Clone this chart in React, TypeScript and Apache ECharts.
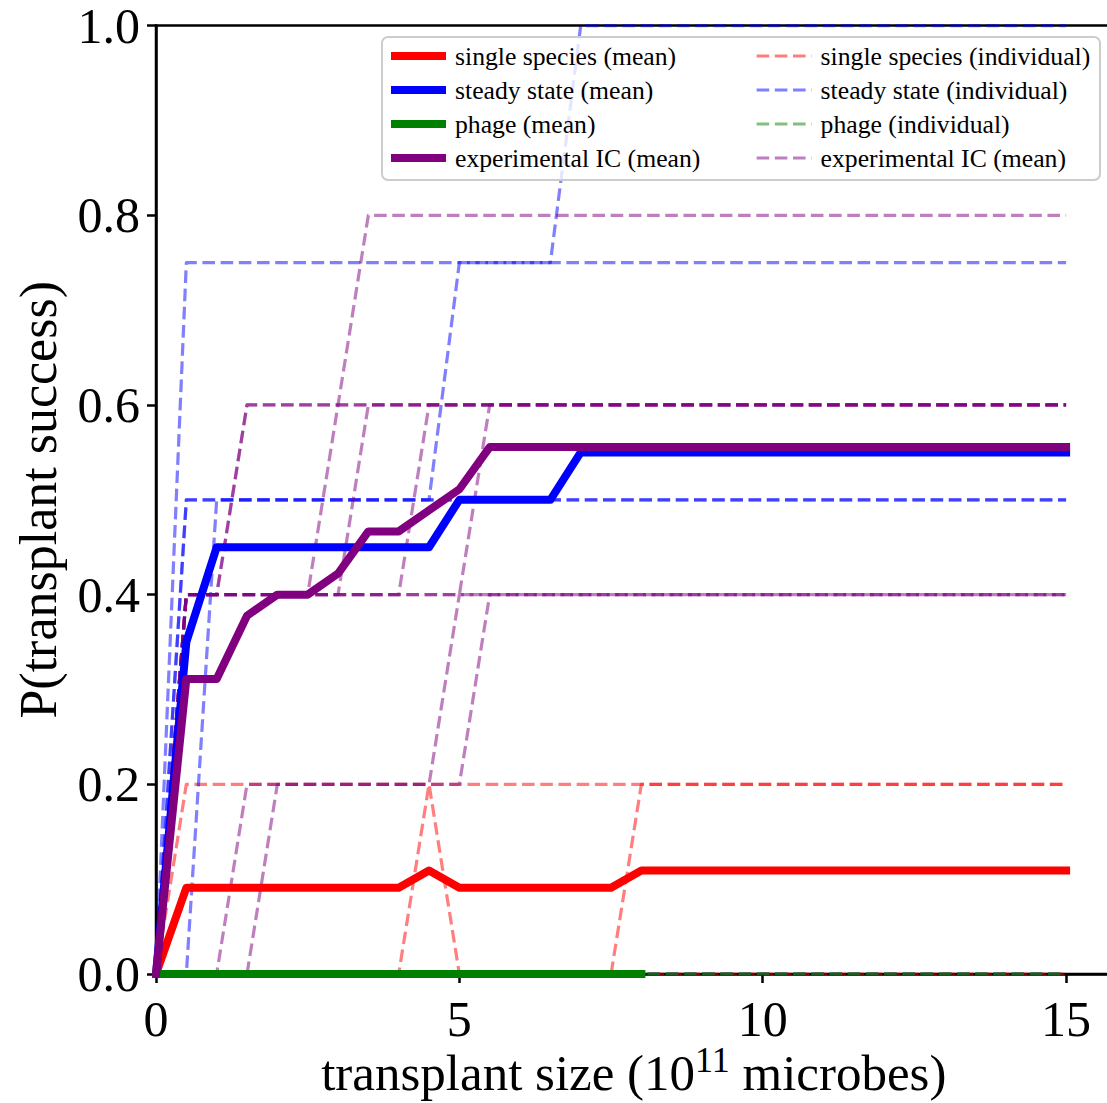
import React, { useEffect, useRef } from "react";
import * as echarts from "echarts";

// transplant size (10^11 microbes)
const xValues = [0, 0.5, 1, 1.5, 2, 2.5, 3, 3.5, 4, 4.5, 5, 5.5, 6, 6.5, 7, 7.5, 8, 15];
const phageX = [0, 0.5, 1, 1.5, 2, 2.5, 3, 3.5, 4, 4.5, 5, 5.5, 6, 6.5, 7, 7.5, 8];

// mean curves
const singleMean = [0, 0.0909, 0.0909, 0.0909, 0.0909, 0.0909, 0.0909, 0.0909, 0.0909, 0.1091, 0.0909, 0.0909, 0.0909, 0.0909, 0.0909, 0.0909, 0.1091, 0.1091];
const steadyMean = [0, 0.35, 0.45, 0.45, 0.45, 0.45, 0.45, 0.45, 0.45, 0.45, 0.5, 0.5, 0.5, 0.5, 0.55, 0.55, 0.55, 0.55];
const phageMean = [0, 0, 0, 0, 0, 0, 0, 0, 0, 0, 0, 0, 0, 0, 0, 0, 0];
const expMean = [0, 0.3111, 0.3111, 0.3778, 0.4, 0.4, 0.4222, 0.4667, 0.4667, 0.4889, 0.5111, 0.5556, 0.5556, 0.5556, 0.5556, 0.5556, 0.5556, 0.5556];

// individual runs
const singleInd1 = [0, 0.2, 0.2, 0.2, 0.2, 0.2, 0.2, 0.2, 0.2, 0.2, 0.2, 0.2, 0.2, 0.2, 0.2, 0.2, 0.2, 0.2];
const singleInd2 = [0, 0, 0, 0, 0, 0, 0, 0, 0, 0.2, 0, 0, 0, 0, 0, 0, 0, 0];
const singleInd3 = [0, 0, 0, 0, 0, 0, 0, 0, 0, 0, 0, 0, 0, 0, 0, 0, 0.2, 0.2];
const singleInd4 = [0, 0, 0, 0, 0, 0, 0, 0, 0, 0, 0, 0, 0, 0, 0, 0, 0, 0];

const steadyInd1 = [0, 0.75, 0.75, 0.75, 0.75, 0.75, 0.75, 0.75, 0.75, 0.75, 0.75, 0.75, 0.75, 0.75, 0.75, 0.75, 0.75, 0.75];
const steadyInd2 = [0, 0.5, 0.5, 0.5, 0.5, 0.5, 0.5, 0.5, 0.5, 0.5, 0.75, 0.75, 0.75, 0.75, 1, 1, 1, 1];
const steadyInd3 = [0, 0.5, 0.5, 0.5, 0.5, 0.5, 0.5, 0.5, 0.5, 0.5, 0.5, 0.5, 0.5, 0.5, 0.5, 0.5, 0.5, 0.5];
const steadyInd4 = [0, 0, 0.5, 0.5, 0.5, 0.5, 0.5, 0.5, 0.5, 0.5, 0.5, 0.5, 0.5, 0.5, 0.5, 0.5, 0.5, 0.5];
const steadyInd5 = [0, 0, 0, 0, 0, 0, 0, 0, 0, 0, 0, 0, 0, 0, 0, 0, 0, 0];

const phageInd1 = [0, 0, 0, 0, 0, 0, 0, 0, 0, 0, 0, 0, 0, 0, 0, 0, 0, 0];
const phageInd2 = [0, 0, 0, 0, 0, 0, 0, 0, 0, 0, 0, 0, 0, 0, 0, 0, 0, 0];

const expInd1 = [0, 0.4, 0.4, 0.6, 0.6, 0.6, 0.6, 0.6, 0.6, 0.6, 0.6, 0.6, 0.6, 0.6, 0.6, 0.6, 0.6, 0.6];
const expInd2 = [0, 0.4, 0.4, 0.6, 0.6, 0.6, 0.6, 0.6, 0.6, 0.6, 0.6, 0.6, 0.6, 0.6, 0.6, 0.6, 0.6, 0.6];
const expInd3 = [0, 0.4, 0.4, 0.4, 0.4, 0.4, 0.6, 0.8, 0.8, 0.8, 0.8, 0.8, 0.8, 0.8, 0.8, 0.8, 0.8, 0.8];
const expInd4 = [0, 0.4, 0.4, 0.4, 0.4, 0.4, 0.4, 0.6, 0.6, 0.6, 0.6, 0.6, 0.6, 0.6, 0.6, 0.6, 0.6, 0.6];
const expInd5 = [0, 0.4, 0.4, 0.4, 0.4, 0.4, 0.4, 0.4, 0.4, 0.6, 0.6, 0.6, 0.6, 0.6, 0.6, 0.6, 0.6, 0.6];
const expInd6 = [0, 0.4, 0.4, 0.4, 0.4, 0.4, 0.4, 0.4, 0.4, 0.4, 0.4, 0.6, 0.6, 0.6, 0.6, 0.6, 0.6, 0.6];
const expInd7 = [0, 0.4, 0.4, 0.4, 0.4, 0.4, 0.4, 0.4, 0.4, 0.4, 0.4, 0.4, 0.4, 0.4, 0.4, 0.4, 0.4, 0.4];
const expInd8 = [0, 0, 0, 0.2, 0.2, 0.2, 0.2, 0.2, 0.2, 0.2, 0.4, 0.4, 0.4, 0.4, 0.4, 0.4, 0.4, 0.4];
const expInd9 = [0, 0, 0, 0, 0.2, 0.2, 0.2, 0.2, 0.2, 0.2, 0.2, 0.4, 0.4, 0.4, 0.4, 0.4, 0.4, 0.4];

const meanNames = ["single species (mean)", "steady state (mean)", "phage (mean)", "experimental IC (mean)"];
const indNames = ["single species (individual)", "steady state (individual)", "phage (individual)", "experimental IC (individual)"];
const indLegendText: Record<string, string> = {
  "experimental IC (individual)": "experimental IC (mean)",
};

const meanColors = ["#ff0000", "#0000ff", "#008000", "#800080"];
const indColors = ["rgba(255,0,0,0.5)", "rgba(0,0,255,0.5)", "rgba(0,128,0,0.5)", "rgba(128,0,128,0.5)"];

const FONT = "'Liberation Serif', 'Times New Roman', serif";

function pairs(xs: number[], ys: number[]) {
  return ys.map((y, i) => [xs[i], y]);
}

export default function App() {
  const ref = useRef<HTMLDivElement>(null);

  useEffect(() => {
    if (!ref.current) return;
    const chart = echarts.init(ref.current, undefined, { renderer: "svg" });

    const groups = [
      { mean: singleMean, mx: xValues, inds: [singleInd1, singleInd2, singleInd3, singleInd4] },
      { mean: steadyMean, mx: xValues, inds: [steadyInd1, steadyInd2, steadyInd3, steadyInd4, steadyInd5] },
      { mean: phageMean, mx: phageX, inds: [phageInd1, phageInd2] },
      { mean: expMean, mx: xValues, inds: [expInd1, expInd2, expInd3, expInd4, expInd5, expInd6, expInd7, expInd8, expInd9] },
    ];

    const series: any[] = [];
    groups.forEach((g, gi) => {
      series.push({
        type: "line",
        name: meanNames[gi],
        data: pairs(g.mx, g.mean),
        symbol: "none",
        z: 3,
        lineStyle: { width: 8, color: meanColors[gi], cap: "square", join: "round" },
        itemStyle: { color: meanColors[gi] },
        emphasis: { disabled: true },
      });
    });
    groups.forEach((g, gi) => {
      g.inds.forEach((ys) => {
        series.push({
          type: "line",
          name: indNames[gi],
          data: pairs(xValues, ys),
          symbol: "none",
          z: 2,
          lineStyle: { width: 3.2, color: indColors[gi], type: [12.6, 5.6], cap: "butt", join: "round" },
          itemStyle: { color: indColors[gi] },
          emphasis: { disabled: true },
        });
      });
    });

    const legendCommon = {
      orient: "vertical",
      top: 43,
      itemWidth: 55,
      itemHeight: 8,
      itemGap: 8,
      padding: 0,
      selectedMode: false,
      z: 10,
      itemStyle: { opacity: 0 },
      textStyle: { fontFamily: FONT, fontSize: 25.7, color: "#000", lineHeight: 24, padding: [0, 0, 0, 4] },
    };

    chart.setOption({
      animation: false,
      backgroundColor: "#ffffff",
      grid: {
        left: 156,
        top: 25.6,
        right: 8.4,
        height: 948.4,
        show: true,
        borderColor: "#000",
        borderWidth: 2.5,
        backgroundColor: "transparent",
      },
      xAxis: {
        type: "value",
        min: 0,
        max: 15.75,
        interval: 5,
        name: "transplant size (10{sup|11} microbes)",
        nameLocation: "middle",
        nameMoveOverlap: false,
        nameGap: 99,
        nameTextStyle: {
          fontFamily: FONT,
          fontSize: 51,
          lineHeight: 51,
          color: "#000",
          verticalAlign: "middle",
          rich: {
            sup: { fontFamily: FONT, fontSize: 36, lineHeight: 20, color: "#000", padding: [0, 0, 26, 0] },
          },
        },
        axisLine: { show: true, lineStyle: { color: "#000", width: 2.5 } },
        axisTick: { show: true, inside: false, length: 9, lineStyle: { color: "#000", width: 2.5 } },
        axisLabel: { fontFamily: FONT, fontSize: 50, color: "#000", margin: 20 },
        splitLine: { show: false },
      },
      yAxis: {
        type: "value",
        min: 0,
        max: 1,
        interval: 0.2,
        name: "P(transplant success)",
        nameLocation: "middle",
        nameGap: 92,
        nameTextStyle: { fontFamily: FONT, fontSize: 52, color: "#000" },
        axisLine: { show: true, lineStyle: { color: "#000", width: 2.5 } },
        axisTick: { show: true, inside: false, length: 9, lineStyle: { color: "#000", width: 2.5 } },
        axisLabel: {
          fontFamily: FONT,
          fontSize: 50,
          color: "#000",
          margin: 16,
          formatter: (v: number) => v.toFixed(1),
        },
        splitLine: { show: false },
      },
      legend: [
        { ...legendCommon, left: 387, data: meanNames, lineStyle: { width: 8, cap: "butt" } },
        {
          ...legendCommon,
          left: 755,
          data: indNames,
          lineStyle: { width: 3.2, cap: "butt" },
          formatter: (name: string) => indLegendText[name] || name,
        },
      ],
      graphic: {
        elements: [
          {
            type: "rect",
            z: 9,
            silent: true,
            shape: { x: 382, y: 37, width: 718, height: 143, r: 6 },
            style: { fill: "rgba(255,255,255,0.8)", stroke: "#cccccc", lineWidth: 2 },
          },
        ],
      },
      series,
    });

    return () => chart.dispose();
  }, []);

  return (
    <div
      style={{
        position: "fixed",
        left: 0,
        top: 0,
        width: 1120,
        height: 1120,
        overflow: "hidden",
        background: "#fff",
      }}
    >
      <div ref={ref} style={{ width: 1120, height: 1120 }} />
    </div>
  );
}
